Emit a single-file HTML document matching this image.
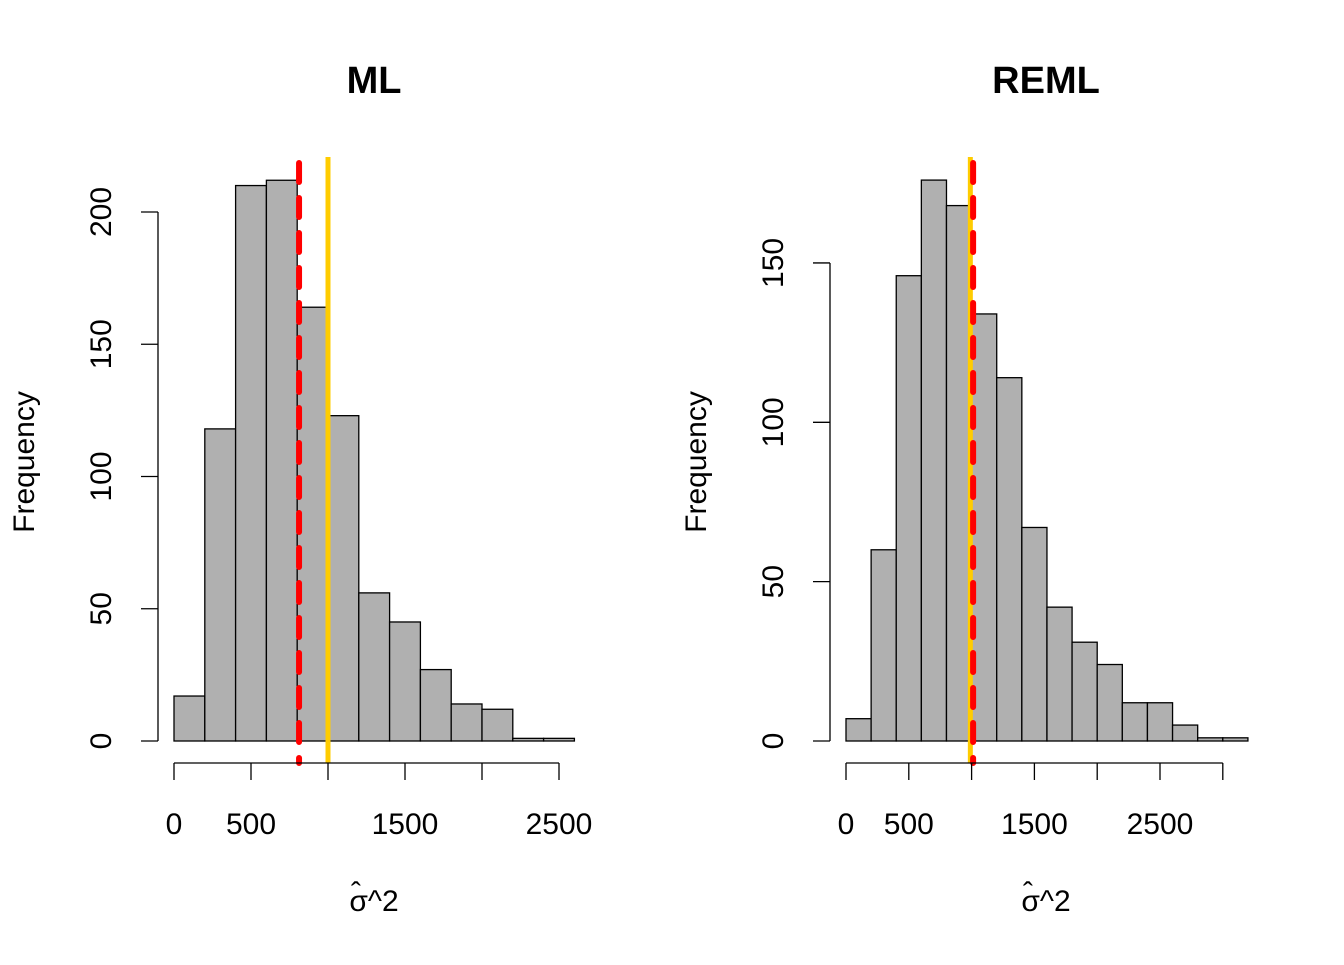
<!DOCTYPE html>
<html><head><meta charset="utf-8"><style>
body{margin:0;background:#fff}
svg text{font-family:"Liberation Sans",Arial,sans-serif;fill:#000}
</style></head><body>
<svg id="c" width="1344" height="960" xmlns="http://www.w3.org/2000/svg"></svg>
<script>
const mlCounts=[17,118,210,212,164,123,56,45,27,14,12,1,1];
const remlCounts=[7,60,146,176,168,134,114,67,42,31,24,12,12,5,1,1];
const binWidth=200;
const mlXTicks=[0,500,1000,1500,2000,2500];
const mlXLabels=["0","500","","1500","","2500"];
const mlYTicks=[0,50,100,150,200];
const remlXTicks=[0,500,1000,1500,2000,2500,3000];
const remlXLabels=["0","500","","1500","","2500",""];
const remlYTicks=[0,50,100,150];
const mlLines=[812,1000];
const remlLines=[1012,990];
const NS="http://www.w3.org/2000/svg";
const svg=document.getElementById('c');
function mk(t,a,p){const e=document.createElementNS(NS,t);for(const k in a)e.setAttribute(k,a[k]);(p||svg).appendChild(e);return e;}
function panel(o){
  const g=mk('g',{});
  
  
  const X=v=>o.x0+v*o.sx, Y=v=>741-v*o.sy;
  o.counts.forEach((c,i)=>{
    const r=mk('rect',{x:X(i*binWidth),y:Y(c),width:binWidth*o.sx,height:c*o.sy,fill:'#b0b0b0',stroke:'#000','stroke-width':1.3},g);
    
    
  });
  const sol=mk('line',{x1:X(o.lines[1]),x2:X(o.lines[1]),y1:157,y2:763,stroke:'#ffcc00','stroke-width':5},g);
  
  
  const d=mk('line',{x1:X(o.lines[0]),x2:X(o.lines[0]),y1:163,y2:763,stroke:'#ff0000','stroke-width':6,'stroke-dasharray':'19 16','stroke-linecap':'round'},g);
  
  
  const xa=mk('g',{},g);
  
  
  mk('line',{x1:X(o.xt[0]),x2:X(o.xt[o.xt.length-1]),y1:763,y2:763,stroke:'#000','stroke-width':1.3},xa);
  o.xt.forEach((v,i)=>{
    mk('line',{x1:X(v),x2:X(v),y1:763,y2:780,stroke:'#000','stroke-width':1.3},xa);
    if(o.xl[i]){const t=mk('text',{x:X(v),y:834,'font-size':30,'text-anchor':'middle'},xa);t.textContent=o.xl[i];}
  });
  const ya=mk('g',{},g);
  
  
  mk('line',{x1:o.ya,x2:o.ya,y1:Y(o.yt[0]),y2:Y(o.yt[o.yt.length-1]),stroke:'#000','stroke-width':1.3},ya);
  o.yt.forEach(v=>{
    mk('line',{x1:o.ya,x2:o.ya-17,y1:Y(v),y2:Y(v),stroke:'#000','stroke-width':1.3},ya);
    const t=mk('text',{x:0,y:0,'font-size':30,'text-anchor':'middle',transform:`translate(${o.ya-47},${Y(v)}) rotate(-90)`},ya);t.textContent=v;
  });
  const ti=mk('text',{x:o.cx,y:93,'font-size':38,'font-weight':'bold','text-anchor':'middle'},g);
  ti.textContent=o.title;
  
  
  const yl=mk('text',{x:0,y:0,'font-size':30,'text-anchor':'middle',transform:`translate(${o.ya-124},462) rotate(-90)`},g);
  yl.textContent='Frequency';
  
  
  const xl=mk('text',{x:o.cx,y:911,'font-size':30,'text-anchor':'middle'},g);
  xl.textContent='σ^2';
  
  
  const hat=mk('text',{x:o.cx-18,y:903,'font-size':30,'text-anchor':'middle'},g);
  hat.textContent='ˆ';
  
  
}
panel({name:'ml-panel',counts:mlCounts,x0:174,sx:0.154,sy:2.645,xt:mlXTicks,xl:mlXLabels,yt:mlYTicks,ya:158,lines:mlLines,cx:374,title:'ML'});
panel({name:'reml-panel',counts:remlCounts,x0:846,sx:0.1256,sy:3.187,xt:remlXTicks,xl:remlXLabels,yt:remlYTicks,ya:830,lines:remlLines,cx:1046,title:'REML'});
</script>
</body></html>
